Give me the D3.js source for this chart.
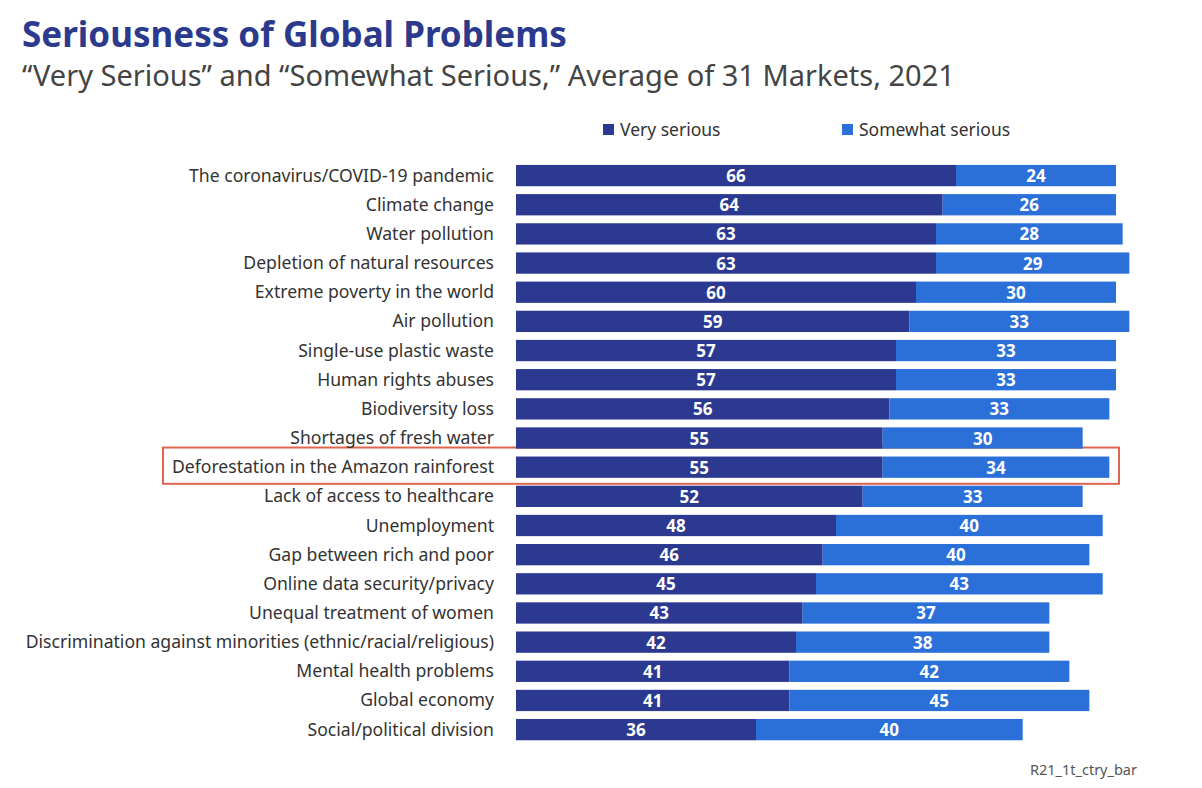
<!DOCTYPE html>
<html>
<head>
<meta charset="utf-8">
<script src="https://cdn.jsdelivr.net/npm/d3@7"></script>
<style>
  body { margin: 0; background: #fff; }
  text { font-family: "Noto Sans", "Open Sans", sans-serif; }
</style>
</head>
<body>
<div id="chart"></div>
<script>
// problems, top to bottom
var problems = [
  "The coronavirus/COVID-19 pandemic",
  "Climate change",
  "Water pollution",
  "Depletion of natural resources",
  "Extreme poverty in the world",
  "Air pollution",
  "Single-use plastic waste",
  "Human rights abuses",
  "Biodiversity loss",
  "Shortages of fresh water",
  "Deforestation in the Amazon rainforest",
  "Lack of access to healthcare",
  "Unemployment",
  "Gap between rich and poor",
  "Online data security/privacy",
  "Unequal treatment of women",
  "Discrimination against minorities (ethnic/racial/religious)",
  "Mental health problems",
  "Global economy",
  "Social/political division"
];
var verySerious =     [66, 64, 63, 63, 60, 59, 57, 57, 56, 55, 55, 52, 48, 46, 45, 43, 42, 41, 41, 36];
var somewhatSerious = [24, 26, 28, 29, 30, 33, 33, 33, 33, 30, 34, 33, 40, 40, 43, 37, 38, 42, 45, 40];
var seriesNames = ["Very serious", "Somewhat serious"];
var highlighted = "Deforestation in the Amazon rainforest";

var colors = ["#2b3990", "#2b6fd9"];

var width = 1202, height = 788;
var margin = {top: 161, left: 516, right: 72, bottom: 44};

var svg = d3.select("#chart").append("svg")
  .attr("width", width)
  .attr("height", height);

// title
svg.append("text")
  .attr("x", 22).attr("y", 47)
  .style("font-size", "35px")
  .style("font-weight", "bold")
  .style("fill", "#2b3a8c")
  .text("Seriousness of Global Problems");

svg.append("text")
  .attr("x", 22).attr("y", 86)
  .style("font-size", "29px")
  .style("fill", "#444")
  .text("\u201cVery Serious\u201d and \u201cSomewhat Serious,\u201d Average of 31 Markets, 2021");

var rows = problems.map(function(p, i) {
  return {name: p, a: verySerious[i], b: somewhatSerious[i]};
});

var x = d3.scaleLinear()
  .domain([0, 90])
  .range([margin.left, margin.left + 600]);

var y = d3.scaleBand()
  .domain(problems)
  .range([margin.top, margin.top + 29.16 * problems.length])
  .paddingInner(0.27)
  .paddingOuter(0.135);

// highlight box
svg.append("rect")
  .attr("x", 163)
  .attr("y", y(highlighted) - 9)
  .attr("width", 1119 - 163)
  .attr("height", y.bandwidth() + 15)
  .style("fill", "none")
  .style("stroke", "#e0654f")
  .style("stroke-width", 2);

var g = svg.selectAll(".row")
  .data(rows).enter()
  .append("g")
  .attr("class", "row");

g.append("rect")
  .attr("x", x(0))
  .attr("y", function(d) { return y(d.name); })
  .attr("width", function(d) { return x(d.a) - x(0); })
  .attr("height", y.bandwidth())
  .style("fill", colors[0]);

g.append("rect")
  .attr("x", function(d) { return x(d.a); })
  .attr("y", function(d) { return y(d.name); })
  .attr("width", function(d) { return x(d.a + d.b) - x(d.a); })
  .attr("height", y.bandwidth())
  .style("fill", colors[1]);

g.append("text")
  .attr("x", function(d) { return (x(0) + x(d.a)) / 2; })
  .attr("y", function(d) { return y(d.name) + y.bandwidth() / 2 + 6.5; })
  .style("text-anchor", "middle")
  .style("font-size", "17px")
  .style("font-weight", "bold")
  .style("fill", "#fff")
  .text(function(d) { return d.a; });

g.append("text")
  .attr("x", function(d) { return (x(d.a) + x(d.a + d.b)) / 2; })
  .attr("y", function(d) { return y(d.name) + y.bandwidth() / 2 + 6.5; })
  .style("text-anchor", "middle")
  .style("font-size", "17px")
  .style("font-weight", "bold")
  .style("fill", "#fff")
  .text(function(d) { return d.b; });

// category labels
g.append("text")
  .attr("x", 494)
  .attr("y", function(d) { return y(d.name) + y.bandwidth() / 2 + 6; })
  .style("text-anchor", "end")
  .style("font-size", "17.6px")
  .style("fill", "#333")
  .text(function(d) { return d.name; });

// legend
var legendX = [603, 842];
var legend = svg.selectAll(".legend")
  .data(seriesNames).enter()
  .append("g")
  .attr("class", "legend")
  .attr("transform", function(d, i) { return "translate(" + legendX[i] + ",124)"; });

legend.append("rect")
  .attr("width", 11).attr("height", 11)
  .style("fill", function(d, i) { return colors[i]; });

legend.append("text")
  .attr("x", 17).attr("y", 11.5)
  .style("font-size", "17.5px")
  .style("fill", "#333")
  .text(function(d) { return d; });

// footer
svg.append("text")
  .attr("x", 1137).attr("y", 775)
  .style("text-anchor", "end")
  .style("font-size", "14.5px")
  .style("fill", "#555")
  .text("R21_1t_ctry_bar");
</script>
</body>
</html>
